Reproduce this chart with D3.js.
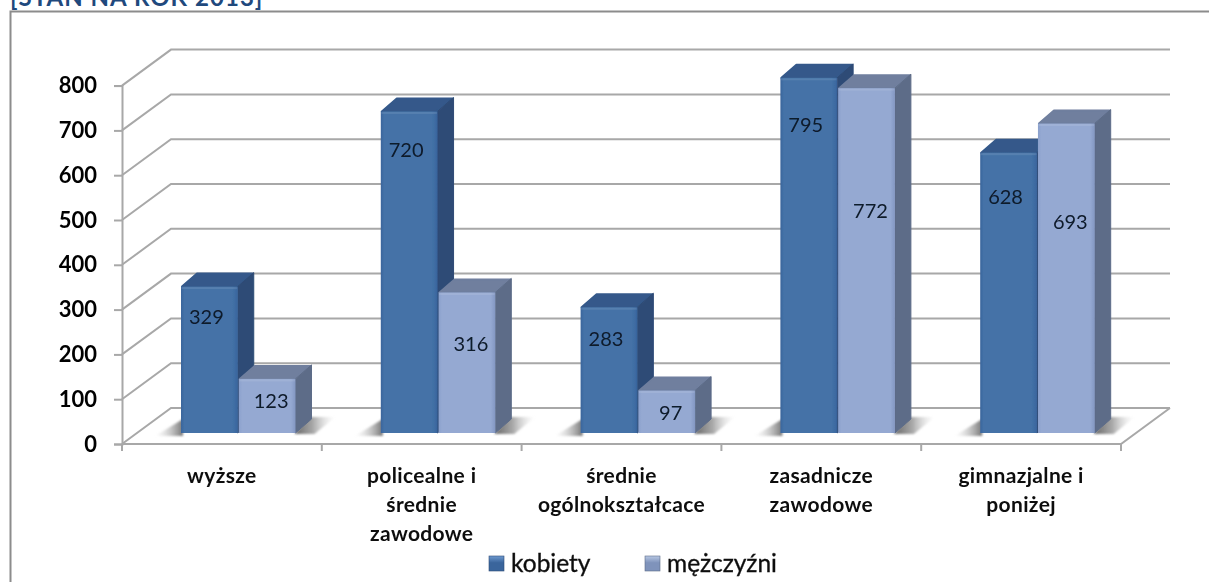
<!DOCTYPE html>
<html><head><meta charset="utf-8">
<script src="https://cdn.jsdelivr.net/npm/d3@7"></script>
<style>html,body{margin:0;padding:0;background:#fff;overflow:hidden}svg{display:block}text{font-family:Lato,"Noto Sans",sans-serif}</style>
</head><body><div id="c"></div>
<script>
const titleText = "[STAN NA ROK 2013]";
const categories = ["wyższe","policealne i\nśrednie\nzawodowe","średnie\nogólnokształcace","zasadnicze\nzawodowe","gimnazjalne i\nponiżej"];
const seriesNames = ["kobiety","mężczyźni"];
const kobiety = [329,720,283,795,628];
const mezczyzni = [123,316,97,772,693];
const yTicks = [0,100,200,300,400,500,600,700,800];
// layout only: how far below the bar top Excel placed each value label
const labelDropK = [30,39,32,47,44];
const labelDropM = [22,52,22,123,98];

const W=1209,H=582, dx=49, dy=-36, depthX=16, depthY=-14, floorInset=11;
const svg=d3.select("#c").append("svg").attr("width",W).attr("height",H);
const defs=svg.append("defs");
const soft=defs.append("filter").attr("id","soft");soft.append("feGaussianBlur").attr("stdDeviation",0.5);
const softS=defs.append("filter").attr("id","softS").attr("x","-30%").attr("width","160%").attr("y","-30%").attr("height","160%");softS.append("feGaussianBlur").attr("stdDeviation",1.3);
const txt=defs.append("filter").attr("id","txt");txt.append("feGaussianBlur").attr("stdDeviation",0.3);
function grad(id,stops){const g=defs.append("linearGradient").attr("id",id);stops.forEach(([o,c,a])=>g.append("stop").attr("offset",o).attr("stop-color",c).attr("stop-opacity",a==null?1:a));}
grad("fk",[[0,"#3a659c"],[.06,"#4472a7"],[.9,"#4472a7"],[.97,"#3d6aa1"],[1,"#35609a"]]);
grad("fm",[[0,"#8aa0cc"],[.06,"#95a9d2"],[.92,"#95a9d2"],[1,"#8397c2"]]);
grad("shR",[[0,"#666",1],[.45,"#999",.85],[1,"#ddd",0]]);
grad("shL",[[0,"#ddd",0],[.55,"#bbb",.8],[1,"#777",1]]);
const palette=[{front:"url(#fk)",top:"#34598a",side:"#2e4b76"},{front:"url(#fm)",top:"#6f7f9e",side:"#5d6c88"}];

const x=d3.scaleBand().domain(categories).range([122,1121]);
const xInner=d3.scaleBand().domain(seriesNames).range([59,174.5]);
const y=d3.scaleLinear().domain([0,800]).range([444,85.6]);

// frame and clipped title
const gridColor="#a8a8a8";
svg.append("path").attr("d",`M10.5,${H} V11.5 H${W}`).attr("fill","none").attr("stroke","#8c8c8c").attr("stroke-width",2).attr("filter","url(#soft)");
svg.append("text").attr("x",10).attr("y",6).attr("font-size",24).attr("font-weight",700).attr("fill","#1f497d").attr("letter-spacing",1.05).text(titleText);

// walls and floor
const grid=svg.append("g").attr("fill","none").attr("stroke",gridColor).attr("stroke-width",2).attr("filter","url(#soft)");
yTicks.forEach(t=>{
  grid.append("path").attr("d",`M${x.range()[0]},${y(t)} l${dx},${dy} H${x.range()[1]+dx}`);
});
grid.append("path").attr("d",`M${x.range()[1]+dx},${y(0)+dy} L${x.range()[1]},${y(0)} H${x.range()[0]}`);

// axes
const axisY=svg.append("g").attr("transform",`translate(${x.range()[0]},0)`).call(d3.axisLeft(y).tickValues(yTicks).tickSize(8).tickPadding(17));
const axisX=svg.append("g").attr("transform",`translate(0,${y(0)})`).call(d3.axisBottom(x).tickSizeInner(0).tickSizeOuter(0).tickFormat(""));
axisX.selectAll(".tick").remove();
axisX.selectAll(".domain").remove();
const edges=[...categories.map(c=>x(c)),x.range()[1]];
axisX.selectAll("line.edge").data(edges).enter().append("line").attr("class","edge").attr("x1",d=>d).attr("x2",d=>d).attr("y1",0).attr("y2",7).attr("stroke",gridColor).attr("stroke-width",2);
axisY.selectAll("line").attr("stroke",gridColor).attr("stroke-width",2);
axisY.select(".domain").attr("stroke",gridColor).attr("stroke-width",2);
axisY.selectAll("text").attr("font-size",22).attr("font-weight",700).attr("fill","#000").attr("font-family","Lato").attr("filter","url(#txt)");
axisY.attr("font-family",null);

// bars
const bw=xInner.bandwidth()-1;
const base=y(0)-floorInset;
const barTop=v=>y(v)-floorInset+1;
const series=[kobiety,mezczyzni];
const plot=svg.append("g");
const shadows=plot.append("g").attr("filter","url(#softS)");
categories.forEach(c=>{
  const x0=x(c)+xInner(seriesNames[0]), x1=x(c)+xInner(seriesNames[1])+bw;
  shadows.append("path").attr("d",`M${x0-26},${base+3} L${x0+2},${base+3} L${x0+2},${base-14} Z`).attr("fill","url(#shL)");
  shadows.append("path").attr("d",`M${x1-1},${base+1} L${x1+19},${base+1} L${x1+40},${base-16} L${x1+14},${base-16} Z`).attr("fill","url(#shR)");
});
const bars=plot.append("g").attr("filter","url(#soft)");
categories.forEach((c,i)=>{
  seriesNames.forEach((s,j)=>{
    const v=series[j][i], bx=x(c)+xInner(s), t=barTop(v), p=palette[j];
    const g=bars.append("g");
    g.append("path").attr("stroke-linejoin","round").attr("stroke",p.top).attr("stroke-width",2).attr("fill",p.top)
      .attr("d",`M${bx+1},${t} l${depthX-1},${depthY+1} h${bw-1} l${-depthX},${-depthY-1} Z`);
    g.append("path").attr("stroke-linejoin","round").attr("stroke",p.side).attr("stroke-width",1).attr("fill",p.side)
      .attr("d",`M${bx+bw},${t} l${depthX},${depthY} V${base+depthY} L${bx+bw},${base} Z`);
    g.append("rect").attr("x",bx).attr("y",t).attr("width",bw).attr("height",base-t).attr("fill",p.front);
    g.append("rect").attr("x",bx+.5).attr("y",t+.5).attr("width",bw-1).attr("height",2).attr("fill","#fff").attr("opacity",.1);
  });
});
// value labels
const drops=[labelDropK,labelDropM], nudge=[-3,4];
categories.forEach((c,i)=>{
  seriesNames.forEach((s,j)=>{
    const v=series[j][i];
    plot.append("text").attr("x",x(c)+xInner(s)+bw/2+nudge[j]).attr("y",barTop(v)+drops[j][i]).attr("dy","0.35em")
      .attr("text-anchor","middle").attr("font-size",20).attr("fill","#0d1a2a").attr("filter","url(#txt)").text(v);
  });
});
// category labels
categories.forEach(c=>{
  const t=svg.append("text").attr("text-anchor","middle").attr("font-size",21).attr("font-weight",700).attr("fill","#111").attr("letter-spacing",0.35).attr("filter","url(#txt)");
  c.split("\n").forEach((line,k)=>{
    t.append("tspan").attr("x",x(c)+x.bandwidth()/2).attr("y",476+k*29).attr("dy","0.35em").text(line);
  });
});
// legend
const legX=d3.scaleOrdinal().domain(seriesNames).range([489,645]);
const legGrad=[["lk","#3a659c","#6f9ad0"],["lm","#7f93bb","#b8c8e4"]];
seriesNames.forEach((s,i)=>{
  const lg=defs.append("linearGradient").attr("id",legGrad[i][0]).attr("x1",0).attr("y1",0).attr("x2",0).attr("y2",1);
  lg.append("stop").attr("offset",0).attr("stop-color",legGrad[i][2]);
  lg.append("stop").attr("offset",.45).attr("stop-color",legGrad[i][1]);
  lg.append("stop").attr("offset",1).attr("stop-color",legGrad[i][1]);
  svg.append("rect").attr("x",legX(s)).attr("y",556).attr("width",15).attr("height",15).attr("fill",`url(#${legGrad[i][0]})`).attr("stroke",palette[i].side).attr("stroke-width",.6);
  svg.append("text").attr("x",legX(s)+22).attr("y",563).attr("dy","0.35em").attr("font-size",24.5).attr("font-weight",400).attr("stroke","#111").attr("stroke-width",0.35).attr("fill","#111").attr("filter","url(#txt)").text(s);
});
</script></body></html>
